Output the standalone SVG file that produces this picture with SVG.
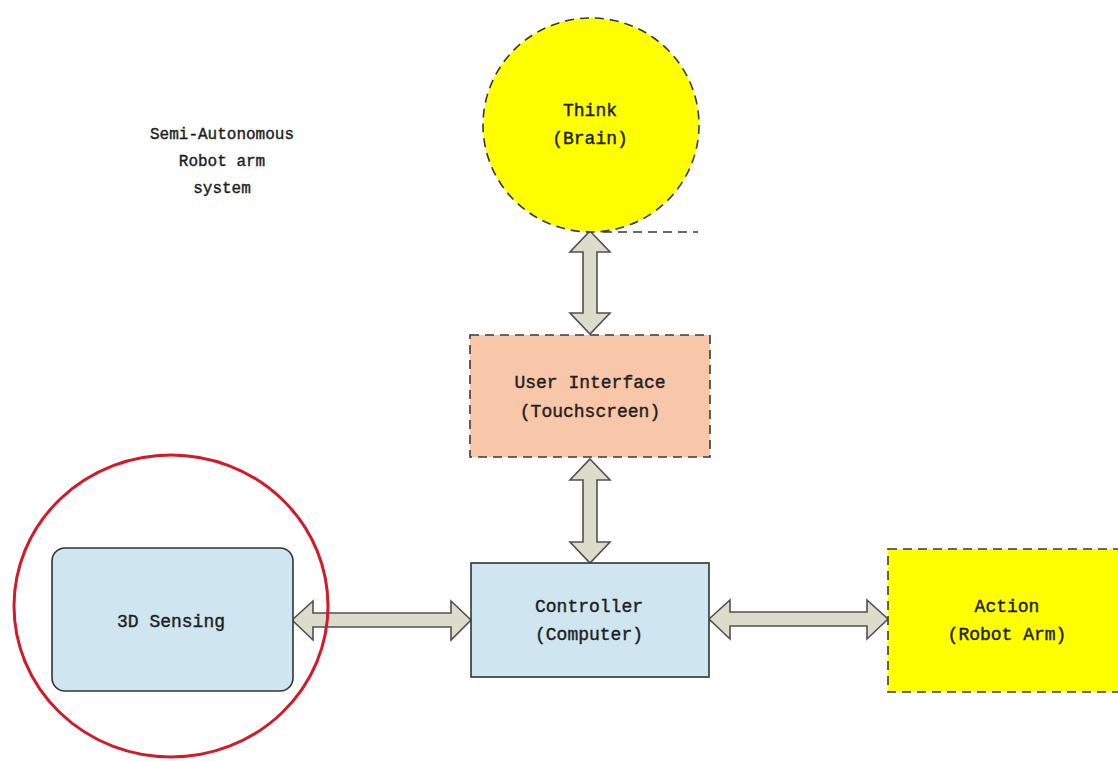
<svg xmlns="http://www.w3.org/2000/svg" width="1118" height="761" viewBox="0 0 1118 761">
  <style>
    .lbl { font-family: "Liberation Mono", "DejaVu Sans Mono", monospace; font-size: 18px; fill: #1e1e1e; stroke: #1e1e1e; stroke-width: 0.4; text-anchor: middle; }
    .title { font-size: 16px; }
    .dash { stroke: #3a3a3a; stroke-width: 1.6; stroke-dasharray: 9 6; }
    .solid { stroke: #333; stroke-width: 1.6; }
    .arrow { fill: #dcdccb; stroke: #505050; stroke-width: 1.6; stroke-linejoin: miter; }
  </style>
  <rect width="1118" height="761" fill="#ffffff"/>

  <!-- caption -->
  <g id="caption">
    <text class="lbl title" x="222" y="139">Semi-Autonomous</text>
    <text class="lbl title" x="222" y="166">Robot arm</text>
    <text class="lbl title" x="222" y="193">system</text>
  </g>

  <!-- connectors: double-headed block arrows -->
  <g id="connectors">
    <!-- Think <-> User Interface -->
    <path class="arrow" d="M590,231 L610,252 L597,252 L597,313 L610,313 L590,334 L570,313 L583,313 L583,252 L570,252 Z"/>
    <!-- User Interface <-> Controller -->
    <path class="arrow" d="M590,459 L610,480 L597,480 L597,542 L610,542 L590,563 L570,542 L583,542 L583,480 L570,480 Z"/>
    <!-- 3D Sensing <-> Controller -->
    <path class="arrow" d="M292,620 L313,601 L313,613 L451,613 L451,601 L471,620 L451,640 L451,627 L313,627 L313,640 Z"/>
    <!-- Controller <-> Action -->
    <path class="arrow" d="M709,619 L730,600 L730,612 L867,612 L867,600 L888,619 L867,639 L867,626 L730,626 L730,639 Z"/>
  </g>

  <!-- Think (Brain) -->
  <g id="think">
    <ellipse cx="591" cy="125" rx="108" ry="107" fill="#ffff00" class="dash"/>
    <line x1="603" y1="232" x2="698" y2="232" class="dash"/>
    <text class="lbl" x="590" y="116">Think</text>
    <text class="lbl" x="590" y="144">(Brain)</text>
  </g>

  <!-- User Interface -->
  <g id="user-interface">
    <rect x="470" y="335" width="240" height="122" fill="#f8c6a9" class="dash"/>
    <text class="lbl" x="590" y="388">User Interface</text>
    <text class="lbl" x="590" y="417">(Touchscreen)</text>
  </g>

  <!-- Controller -->
  <g id="controller">
    <rect x="471" y="563" width="238" height="114" fill="#cfe5ef" class="solid"/>
    <text class="lbl" x="589" y="612">Controller</text>
    <text class="lbl" x="589" y="640">(Computer)</text>
  </g>

  <!-- 3D Sensing -->
  <g id="sensing">
    <rect x="52" y="548" width="241" height="143" rx="13" ry="13" fill="#cfe5ef" class="solid"/>
    <text class="lbl" x="171" y="627">3D Sensing</text>
    <ellipse cx="171" cy="606" rx="157" ry="151" fill="none" stroke="#d41a2a" stroke-width="3"/>
  </g>

  <!-- Action (Robot Arm) -->
  <g id="action">
    <rect x="888" y="549" width="240" height="143" fill="#ffff00" class="dash"/>
    <text class="lbl" x="1007" y="612">Action</text>
    <text class="lbl" x="1007" y="640">(Robot Arm)</text>
  </g>
</svg>
